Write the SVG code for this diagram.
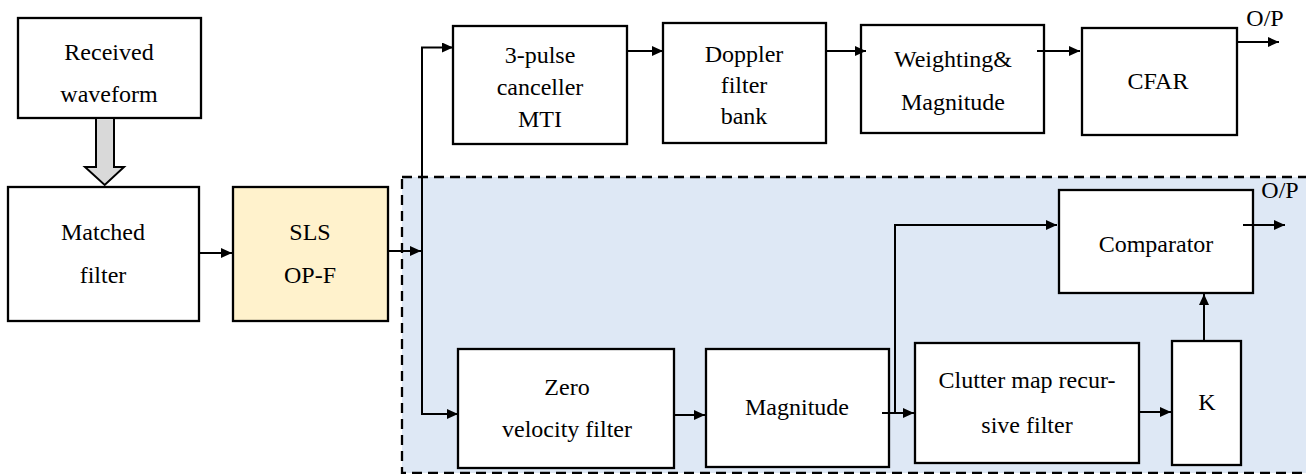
<svg xmlns="http://www.w3.org/2000/svg" width="1306" height="474" viewBox="0 0 1306 474">
<style>
.box{fill:#ffffff;stroke:#000;stroke-width:2.3}
text{font-family:"Liberation Serif","Times New Roman",Times,serif;font-size:24px;fill:#000;text-anchor:middle}
.c{fill:none;stroke:#000;stroke-width:2}
</style>
<defs>
<marker id="ah" viewBox="0 0 11 10" refX="11" refY="5" markerWidth="11" markerHeight="10" markerUnits="userSpaceOnUse" orient="auto">
<path d="M0,0 L11,5 L0,10 Z" fill="#000"/>
</marker>
</defs>
<rect width="1306" height="474" fill="#fff"/>
<g id="region">
<rect x="402" y="177" width="910" height="296" fill="#dee8f5" stroke="#000" stroke-width="2.3" stroke-dasharray="10,6"/>
</g>
<g id="received">
<rect class="box" x="18" y="18" width="183" height="100"/>
<text x="109" y="60">Received</text>
<text x="109" y="102">waveform</text>
</g>
<g id="matched">
<rect class="box" x="8" y="187" width="191" height="134"/>
<text x="103" y="240">Matched</text>
<text x="103" y="283">filter</text>
</g>
<g id="sls">
<rect class="box" x="233" y="187" width="155" height="134" style="fill:#fff2cc"/>
<text x="310" y="240">SLS</text>
<text x="310" y="283">OP-F</text>
</g>
<g id="mti">
<rect class="box" x="453" y="26" width="174" height="118"/>
<text x="540" y="63">3-pulse</text>
<text x="540" y="95">canceller</text>
<text x="540" y="127">MTI</text>
</g>
<g id="doppler">
<rect class="box" x="663" y="23" width="163" height="120"/>
<text x="744" y="62">Doppler</text>
<text x="744" y="93">filter</text>
<text x="744" y="124">bank</text>
</g>
<g id="weighting">
<rect class="box" x="861" y="25" width="183" height="108"/>
<text x="953" y="67">Weighting&amp;</text>
<text x="953" y="110">Magnitude</text>
</g>
<g id="cfar">
<rect class="box" x="1082" y="28" width="155" height="107"/>
<text x="1158" y="89">CFAR</text>
</g>
<g id="comparator">
<rect class="box" x="1059" y="190" width="194" height="103"/>
<text x="1156" y="252">Comparator</text>
</g>
<g id="zero">
<rect class="box" x="458" y="349" width="216" height="119"/>
<text x="567" y="395">Zero</text>
<text x="567" y="437">velocity filter</text>
</g>
<g id="magnitude">
<rect class="box" x="706" y="349" width="183" height="118"/>
<text x="797" y="415">Magnitude</text>
</g>
<g id="clutter">
<rect class="box" x="915" y="343" width="224" height="120"/>
<text x="1027" y="388">Clutter map recur-</text>
<text x="1027" y="433">sive filter</text>
</g>
<g id="k">
<rect class="box" x="1172" y="341" width="69" height="124"/>
<text x="1207" y="410">K</text>
</g>
<g id="labels">
<text x="1265" y="26">O/P</text>
<text x="1280" y="198">O/P</text>
</g>
<g id="connectors">
<path d="M96,118 V167 H85 L104.7,185 L124,167 H114 V118 Z" fill="#d9d9d9" stroke="#000" stroke-width="2"/>
<line class="c" x1="199" y1="253" x2="232" y2="253" marker-end="url(#ah)"/>
<line class="c" x1="388" y1="251" x2="421" y2="251" marker-end="url(#ah)"/>
<polyline class="c" points="422,47 422,414"/>
<line class="c" x1="421" y1="47.5" x2="453" y2="47.5" marker-end="url(#ah)"/>
<line class="c" x1="421" y1="414" x2="458" y2="414" marker-end="url(#ah)"/>
<line class="c" x1="627" y1="51" x2="663" y2="51" marker-end="url(#ah)"/>
<line class="c" x1="826" y1="51" x2="866" y2="51" marker-end="url(#ah)"/>
<line class="c" x1="1037" y1="51" x2="1080" y2="51" marker-end="url(#ah)"/>
<line class="c" x1="1237" y1="42" x2="1279" y2="42" marker-end="url(#ah)"/>
<line class="c" x1="674" y1="415" x2="705" y2="415" marker-end="url(#ah)"/>
<line class="c" x1="882" y1="413" x2="914" y2="413" marker-end="url(#ah)"/>
<polyline class="c" points="895,413 895,225 1057,225" marker-end="url(#ah)"/>
<line class="c" x1="1139" y1="412" x2="1171" y2="412" marker-end="url(#ah)"/>
<line class="c" x1="1204" y1="341" x2="1204" y2="294" marker-end="url(#ah)"/>
<line class="c" x1="1243" y1="225" x2="1285" y2="225" marker-end="url(#ah)"/>
</g>
</svg>
